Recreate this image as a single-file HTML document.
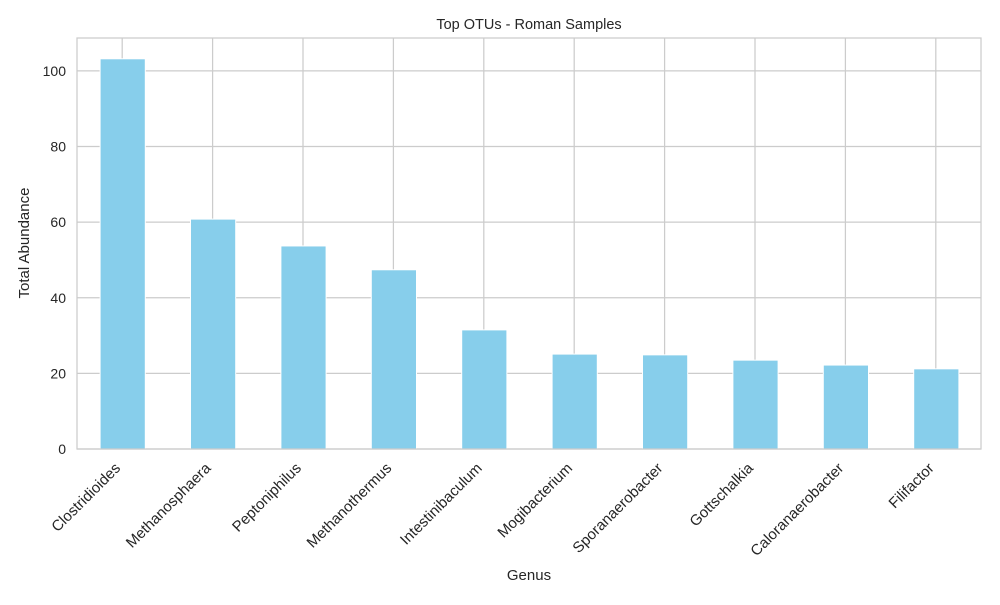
<!DOCTYPE html>
<html><head><meta charset="utf-8"><style>
body{margin:0;background:#fff;}
svg text{font-family:"Liberation Sans",Arial,sans-serif;fill:#262626;}
</style></head><body>
<svg id="chart" width="1000" height="600">
<rect width="1000" height="600" fill="#fff"/>
<g id="grid"></g>
<g id="bars"></g>
<rect x="77" y="38" width="904" height="411" fill="none" stroke="#cccccc" stroke-width="1.25"/>
<g id="labels"></g>
<text x="529" y="29" text-anchor="middle" font-size="14.5">Top OTUs - Roman Samples</text>
<text x="529" y="580" text-anchor="middle" font-size="15">Genus</text>
<text transform="translate(29,243) rotate(-90)" text-anchor="middle" font-size="15">Total Abundance</text>
</svg>
<script>
const categories=["Clostridioides","Methanosphaera","Peptoniphilus","Methanothermus","Intestinibaculum","Mogibacterium","Sporanaerobacter","Gottschalkia","Caloranaerobacter","Filifactor"];
const values=[103.2,60.8,53.7,47.4,31.5,25.1,24.9,23.5,22.2,21.2];
const yTicks=[0,20,40,60,80,100];
const NS="http://www.w3.org/2000/svg";
const L=77,R=981,T=38,B=449,yMax=108.7;
const y=v=>B-(v/yMax)*(B-T);
const step=(R-L)/categories.length;
const x=i=>L+step*(i+0.5);
function mk(t,a){const e=document.createElementNS(NS,t);for(const k in a)e.setAttribute(k,a[k]);return e;}
const grid=document.getElementById('grid'),bars=document.getElementById('bars'),labels=document.getElementById('labels');
yTicks.forEach(v=>{
 const l=mk('line',{x1:L,x2:R,y1:y(v),y2:y(v),stroke:'#cccccc','stroke-width':1.25});
 
 
 grid.appendChild(l);
 const t=mk('text',{x:L-11,y:y(v)+5,'text-anchor':'end','font-size':14});
 t.textContent=v;
 
 
 labels.appendChild(t);
});
categories.forEach((c,i)=>{
 const l=mk('line',{x1:x(i),x2:x(i),y1:T,y2:B,stroke:'#cccccc','stroke-width':1.25});
 
 
 grid.appendChild(l);
 const w=step*0.5;
 const r=mk('rect',{x:x(i)-w/2+0.5,y:y(values[i]),width:w,height:B-y(values[i]),fill:'#87ceeb',stroke:'#fff','stroke-width':1});
 
 
 bars.appendChild(r);
 const t=mk('text',{transform:`translate(${x(i)-1},${B+20}) rotate(-45)`,'text-anchor':'end','font-size':15});
 t.textContent=c;
 
 
 labels.appendChild(t);
});
</script>
</body></html>
